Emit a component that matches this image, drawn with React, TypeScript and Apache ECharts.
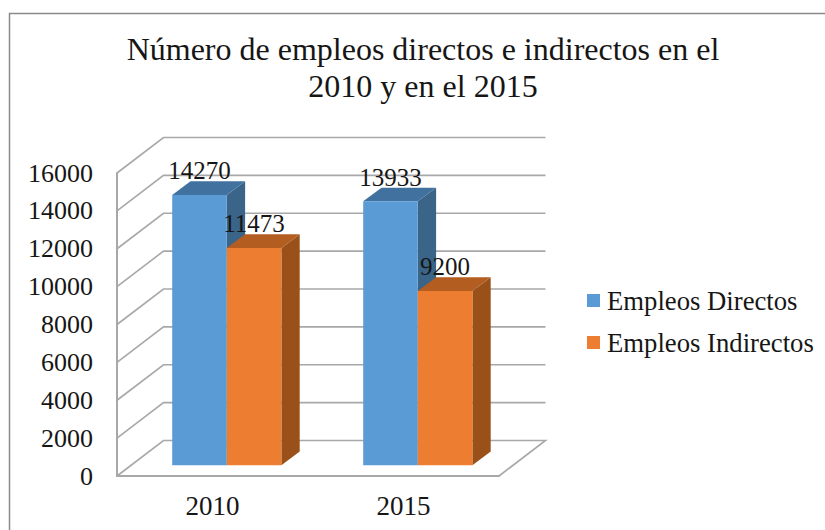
import React, { useEffect, useRef } from "react";
import * as echarts from "echarts";

const categories = ["2010", "2015"];
const directos = [14270, 13933];
const indirectos = [11473, 9200];
const yTicks = [0, 2000, 4000, 6000, 8000, 10000, 12000, 14000, 16000];
const titleLines = ["Número de empleos directos e indirectos en el", "2010 y en el 2015"];
const seriesNames = ["Empleos Directos", "Empleos Indirectos"];

const FONT = '"Liberation Serif", "Times New Roman", serif';
const GRID_COLOR = "#a8a8a8";
const TEXT = "#161616";
const WALL_DX = 46.5;
const WALL_DY = -35.5;
const BAR_W = 54.6;
const BAR_SHIFT_X = 14.3;
const BAR_SHIFT_Y = -10.8;
const BAR_DX = 18.3;
const BAR_DY = -13.7;

function barRenderer(offsetSign: number, front: string, top: string, side: string) {
  return (params: any, api: any) => {
    const base = api.coord([api.value(0), 0]);
    const head = api.coord([api.value(0), api.value(1)]);
    const x0 = base[0] + BAR_SHIFT_X + (offsetSign < 0 ? -BAR_W : 0);
    const x1 = x0 + BAR_W;
    const yb = base[1] + BAR_SHIFT_Y;
    const yt = head[1] + BAR_SHIFT_Y;
    return {
      type: "group",
      children: [
        {
          type: "polygon",
          shape: { points: [[x1, yb], [x1 + BAR_DX, yb + BAR_DY], [x1 + BAR_DX, yt + BAR_DY], [x1, yt]] },
          style: { fill: side },
        },
        {
          type: "polygon",
          shape: { points: [[x0, yt], [x0 + BAR_DX, yt + BAR_DY], [x1 + BAR_DX, yt + BAR_DY], [x1, yt]] },
          style: { fill: top },
        },
        { type: "rect", shape: { x: x0, y: yt, width: BAR_W, height: yb - yt }, style: { fill: front } },
        {
          type: "text",
          z2: 100,
          style: {
            x: (x0 + x1) / 2,
            y: yt - 24,
            text: String(api.value(1)),
            fill: TEXT,
            font: `25px ${FONT}`,
            align: "center",
            verticalAlign: "middle",
          },
        },
      ],
    };
  };
}

export default function App() {
  const ref = useRef<HTMLDivElement>(null);
  useEffect(() => {
    const chart = echarts.init(ref.current!, null, { renderer: "svg" });
    chart.setOption({
      animation: false,
      backgroundColor: "#ffffff",
      title: {
        text: titleLines.join("\n"),
        left: 418,
        top: 25,
        textAlign: "center",
        textStyle: { fontFamily: FONT, fontSize: 32, fontWeight: "normal", color: TEXT, lineHeight: 37 },
      },
      graphic: [
        {
          type: "rect",
          z: -10,
          silent: true,
          shape: { x: 9.5, y: 13.5, width: 900, height: 600 },
          style: { fill: "none", stroke: "#8a8a8a", lineWidth: 1.5 },
        },
      ],
      legend: {
        orient: "vertical",
        left: 582,
        top: 282,
        itemWidth: 13,
        itemHeight: 13,
        itemGap: 15,
        icon: "rect",
        data: seriesNames,
        selectedMode: false,
        textStyle: { fontFamily: FONT, fontSize: 26.7, color: TEXT, padding: [0, 0, 0, 2] },
      },
      grid: { left: 117, top: 173, width: 382, height: 303, containLabel: false },
      xAxis: {
        type: "category",
        data: categories,
        axisTick: { show: false },
        axisLine: { lineStyle: { color: GRID_COLOR, width: 2 } },
        axisLabel: { fontFamily: FONT, fontSize: 27, color: TEXT, margin: 16 },
      },
      yAxis: {
        type: "value",
        min: 0,
        max: 16000,
        interval: 2000,
        axisTick: { show: false },
        splitLine: { show: false },
        axisLine: { show: true, lineStyle: { color: GRID_COLOR, width: 2 } },
        axisLabel: {
          fontFamily: FONT,
          fontSize: 26,
          color: TEXT,
          margin: 24,
          padding: [0, 0, 3, 0],
          formatter: (v: number) => String(v),
        },
      },
      series: [
        {
          type: "custom",
          name: "walls",
          silent: true,
          z: 1,
          data: yTicks.map((t) => [0, t]),
          encode: { x: 0, y: 1 },
          renderItem: (params: any, api: any) => {
            const y = api.coord([0, api.value(1)])[1];
            const left = params.coordSys.x;
            const right = left + params.coordSys.width;
            const bottom = api.value(1) === yTicks[0];
            const pts = [
              [left, y],
              [left + WALL_DX, y + WALL_DY],
              [right + WALL_DX, y + WALL_DY],
            ];
            if (bottom) pts.push([right, y]);
            return {
              type: "polyline",
              shape: { points: pts },
              style: { fill: "none", stroke: GRID_COLOR, lineWidth: 1.6 },
            };
          },
        },
        {
          type: "custom",
          name: seriesNames[0],
          z: 3,
          itemStyle: { color: "#5B9BD5" },
          data: directos.map((v, i) => [i, v]),
          encode: { x: 0, y: 1 },
          renderItem: barRenderer(-1, "#5B9BD5", "#41729F", "#3A6488"),
        },
        {
          type: "custom",
          name: seriesNames[1],
          z: 4,
          itemStyle: { color: "#ED7D31" },
          data: indirectos.map((v, i) => [i, v]),
          encode: { x: 0, y: 1 },
          renderItem: barRenderer(1, "#ED7D31", "#B35D21", "#995119"),
        },
      ],
    });
    return () => chart.dispose();
  }, []);
  return <div ref={ref} style={{ position: "absolute", left: 0, top: 0, width: 825, height: 530 }} />;
}
